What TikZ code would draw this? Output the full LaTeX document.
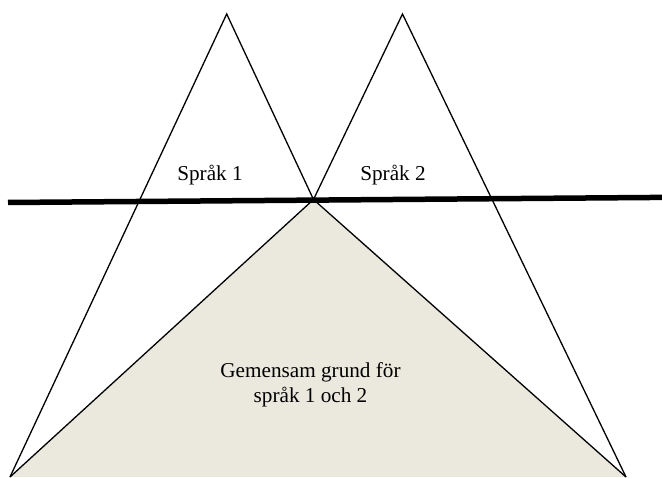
\documentclass[tikz,border=0pt]{standalone}
\usepackage{fontspec}
\setmainfont{Liberation Serif}
\definecolor{groundfill}{RGB}{235,233,222}
\tikzset{
  thinline/.style={draw=black, line width=1.3pt, line join=miter},
  thickline/.style={draw=black, line width=5.5pt},
  lbl/.style={font=\fontsize{21.2}{24.5}\selectfont, align=center, inner sep=0pt, anchor=base}
}
\begin{document}
\begin{tikzpicture}[x=1pt, y=-1pt]
\useasboundingbox (0,0) rectangle (662,478);
% key points
\coordinate (BL) at (10,477);
\coordinate (BR) at (626,477);
\coordinate (A1) at (226.7,14);
\coordinate (A2) at (402.5,14);
\coordinate (J) at (313.5,199.5);
\coordinate (LL) at (8,202.5);
\coordinate (LR) at (663,197.4);
% shared ground
\fill[groundfill] (BL) -- (J) -- (BR) -- cycle;
\draw[thinline] (BL) -- (J) -- (BR);
% two language peaks
\draw[thinline] (BL) -- (A1) -- (J) -- (A2) -- (BR);
% horizon line
\draw[thickline] (LL) -- (LR);
% labels
\node[lbl] (s1) at (210,181) {Språk 1};
\node[lbl] (s2) at (393,181) {Språk 2};
\node[lbl] (g1) at (310.5,378) {Gemensam grund för};
\node[lbl] (g2) at (310.5,402.5) {språk 1 och 2};
\end{tikzpicture}
\end{document}
